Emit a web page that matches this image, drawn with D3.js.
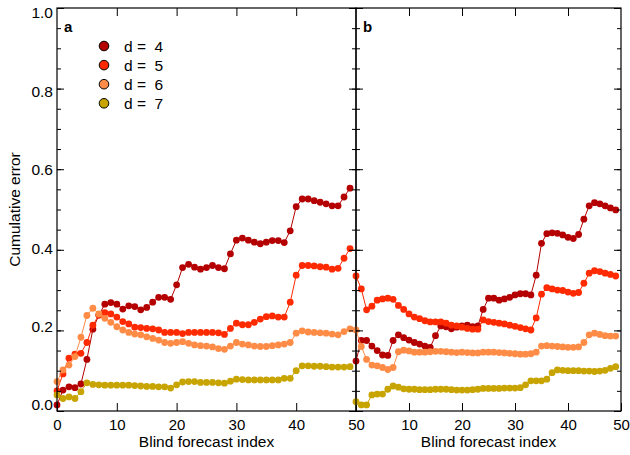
<!DOCTYPE html>
<html><head><meta charset="utf-8">
<script src="https://cdn.jsdelivr.net/npm/d3@7/dist/d3.min.js"></script>
<style>
body{margin:0;background:#fff}
text{font-family:Arial,"Liberation Sans",Helvetica,sans-serif;fill:#000}
</style>
</head><body>
<svg id="chart" width="630" height="455"></svg>
<script>
// ---------------- data ----------------
const seriesLabels = ["d =  4", "d =  5", "d =  6", "d =  7"];
const seriesColors = ["#b40000", "#ff2a00", "#ff8c46", "#c8a400"];
const xTickLabelsA = [0, 10, 20, 30, 40, 50];
const xTickLabelsB = [10, 20, 30, 40, 50];
const yTickLabels = [0, 0.2, 0.4, 0.6, 0.8, 1.0];
const panelNames = ["a", "b"];
const xTitle = "Blind forecast index";
const yTitle = "Cumulative error";

// panel a
const a4 = [0.015,0.052,0.060,0.058,0.067,0.128,0.203,0.238,0.265,0.269,
            0.265,0.253,0.261,0.259,0.251,0.257,0.270,0.282,0.282,0.277,
            0.313,0.356,0.364,0.357,0.352,0.356,0.361,0.356,0.353,0.390,
            0.424,0.429,0.424,0.419,0.415,0.419,0.423,0.423,0.418,0.447,
            0.507,0.526,0.526,0.522,0.518,0.514,0.509,0.509,0.531,0.553];
const a5 = [0.050,0.092,0.131,0.141,0.143,0.170,0.213,0.238,0.244,0.241,
            0.233,0.222,0.216,0.208,0.207,0.205,0.204,0.201,0.195,0.195,
            0.195,0.192,0.195,0.195,0.195,0.195,0.195,0.194,0.190,0.205,
            0.218,0.214,0.214,0.220,0.228,0.234,0.236,0.233,0.233,0.270,
            0.337,0.361,0.361,0.360,0.358,0.357,0.352,0.354,0.379,0.403];
const a6 = [0.073,0.102,0.114,0.135,0.183,0.237,0.255,0.241,0.230,0.220,
            0.209,0.201,0.195,0.191,0.189,0.184,0.180,0.176,0.170,0.168,
            0.170,0.172,0.168,0.164,0.162,0.161,0.159,0.155,0.153,0.161,
            0.170,0.166,0.164,0.161,0.160,0.160,0.162,0.164,0.166,0.170,
            0.193,0.199,0.196,0.195,0.194,0.193,0.191,0.189,0.197,0.204];
const a7 = [0.040,0.031,0.035,0.031,0.048,0.070,0.066,0.065,0.064,0.064,
            0.064,0.064,0.064,0.063,0.062,0.061,0.061,0.060,0.060,0.057,
            0.065,0.072,0.073,0.073,0.071,0.071,0.071,0.070,0.069,0.074,
            0.079,0.078,0.077,0.077,0.077,0.077,0.077,0.077,0.081,0.081,
            0.100,0.112,0.112,0.111,0.111,0.110,0.109,0.109,0.109,0.110];
// panel b
const b4 = [0.124,0.175,0.175,0.161,0.150,0.139,0.138,0.175,0.189,0.182,
            0.176,0.170,0.166,0.161,0.158,0.187,0.211,0.209,0.204,0.208,
            0.211,0.213,0.209,0.211,0.252,0.280,0.280,0.275,0.278,0.282,
            0.288,0.291,0.291,0.288,0.337,0.416,0.440,0.442,0.441,0.437,
            0.431,0.428,0.438,0.476,0.509,0.517,0.514,0.509,0.504,0.499];
const b5 = [0.335,0.303,0.251,0.260,0.275,0.278,0.280,0.277,0.262,0.252,
            0.241,0.233,0.229,0.224,0.221,0.221,0.221,0.218,0.213,0.211,
            0.208,0.205,0.203,0.203,0.226,0.222,0.220,0.218,0.216,0.213,
            0.210,0.207,0.204,0.201,0.231,0.290,0.306,0.303,0.300,0.299,
            0.295,0.292,0.294,0.317,0.342,0.348,0.346,0.342,0.339,0.335];
const b6 = [0.201,0.160,0.128,0.114,0.112,0.108,0.103,0.108,0.147,0.151,
            0.149,0.146,0.146,0.146,0.147,0.148,0.148,0.147,0.146,0.145,
            0.146,0.145,0.144,0.144,0.146,0.146,0.146,0.145,0.144,0.143,
            0.142,0.141,0.141,0.142,0.146,0.161,0.162,0.161,0.160,0.159,
            0.158,0.158,0.159,0.170,0.189,0.193,0.190,0.187,0.186,0.186];
const b7 = [0.023,0.015,0.015,0.040,0.042,0.042,0.054,0.062,0.059,0.055,
            0.054,0.054,0.053,0.053,0.053,0.054,0.054,0.054,0.053,0.052,
            0.052,0.052,0.053,0.054,0.056,0.056,0.056,0.056,0.057,0.057,
            0.057,0.058,0.065,0.075,0.075,0.075,0.079,0.095,0.102,0.101,
            0.100,0.100,0.100,0.099,0.099,0.098,0.099,0.101,0.106,0.110];

// ---------------- drawing ----------------
const svg = d3.select("#chart");
const plotTop = 8, plotBottom = 411;
const y = d3.scaleLinear().domain([0, 1]).range([plotBottom, plotTop]);
const yLab = d3.scaleLinear().domain([0, 1]).range([405, 13]);
const xA = d3.scaleLinear().domain([0, 50]).range([57, 356]);
const xB = d3.scaleLinear().domain([0, 50]).range([356, 621]);
const minorY = d3.range(0, 1.0001, 0.05).map(v => +v.toFixed(2));

const panels = [
  {x: xA, data: [a4, a5, a6, a7], xt: xTickLabelsA, name: panelNames[0], leftLabels: true},
  {x: xB, data: [b4, b5, b6, b7], xt: xTickLabelsB, name: panelNames[1], leftLabels: false}
];

const fontSize = "15px";

panels.forEach(p => {
  const g = svg.append("g");
  const [x0, x1] = p.x.range();
  p.data.forEach((vals, si) => {
    const pts = vals.map((v, i) => [i, v]);
    g.append("path").datum(pts)
      .attr("fill", "none").attr("stroke", seriesColors[si]).attr("stroke-width", 1)
      .attr("d", d3.line().x(d => p.x(d[0])).y(d => y(d[1])));
    g.selectAll(null).data(pts).enter().append("circle")
      .attr("cx", d => p.x(d[0])).attr("cy", d => y(d[1])).attr("r", 3.4)
      .attr("fill", seriesColors[si]);
  });
  const bx = g.append("g").attr("transform", `translate(0,${plotBottom})`)
    .call(d3.axisBottom(p.x).tickValues(p.xt).tickSize(-8).tickSizeOuter(0).tickPadding(8).tickFormat(d3.format("d")));
  bx.selectAll("text").style("font-size", fontSize);
  g.append("g").attr("transform", `translate(0,${plotTop})`)
    .call(d3.axisTop(p.x).tickValues(p.xt.filter(v => v > 0 && v < 50)).tickSize(-8).tickSizeOuter(0).tickFormat(""));
  g.append("g").attr("transform", `translate(${x0},0)`)
    .call(d3.axisLeft(y).tickValues(yTickLabels).tickSize(-7).tickSizeOuter(0).tickFormat(""));
  g.append("g").attr("transform", `translate(${x0},0)`)
    .call(d3.axisLeft(y).tickValues(minorY).tickSize(-4).tickSizeOuter(0).tickFormat(""));
  g.append("g").attr("transform", `translate(${x1},0)`)
    .call(d3.axisRight(y).tickValues(yTickLabels).tickSize(-7).tickSizeOuter(0).tickFormat(""));
  g.append("g").attr("transform", `translate(${x1},0)`)
    .call(d3.axisRight(y).tickValues(minorY).tickSize(-4).tickSizeOuter(0).tickFormat(""));
  if (p.leftLabels) {
    const lab = g.append("g").attr("transform", `translate(${x0},0)`)
      .call(d3.axisLeft(yLab).tickValues(yTickLabels).tickSize(0).tickPadding(4).tickFormat(d3.format(".1f")));
    lab.select(".domain").remove();
    lab.selectAll("text").style("font-size", "15.5px");
  }
  g.selectAll(".domain").remove();
  g.selectAll(".tick line").attr("stroke", "#000").attr("stroke-width", 1);
  g.append("rect").attr("x", x0).attr("y", plotTop).attr("width", x1 - x0).attr("height", plotBottom - plotTop)
    .attr("fill", "none").attr("stroke", "#000").attr("stroke-width", 1.2);
  g.append("text").attr("x", (x0 + x1) / 2).attr("y", 447).attr("text-anchor", "middle")
    .style("font-size", "15.5px").text(xTitle);
  g.append("text").attr("x", x0 + 7).attr("y", 32).style("font-size", "15px").style("font-weight", "bold")
    .text(p.name);
});

svg.selectAll(".tick text").style("fill", "#000");

svg.append("text").attr("transform", `translate(20,${(plotTop + plotBottom) / 2}) rotate(-90)`)
  .attr("text-anchor", "middle").style("font-size", "15.5px").text(yTitle);

const leg = svg.append("g");
seriesLabels.forEach((lab, i) => {
  const cy = 46 + i * 19.1;
  leg.append("circle").attr("cx", 104).attr("cy", cy).attr("r", 4.8)
    .attr("fill", seriesColors[i]).attr("stroke", "#000").attr("stroke-width", 1);
  leg.append("text").attr("x", 124).attr("y", cy + 5.5).style("font-size", "15.5px")
    .style("white-space", "pre").attr("xml:space", "preserve").text(lab);
});
</script>
</body></html>
